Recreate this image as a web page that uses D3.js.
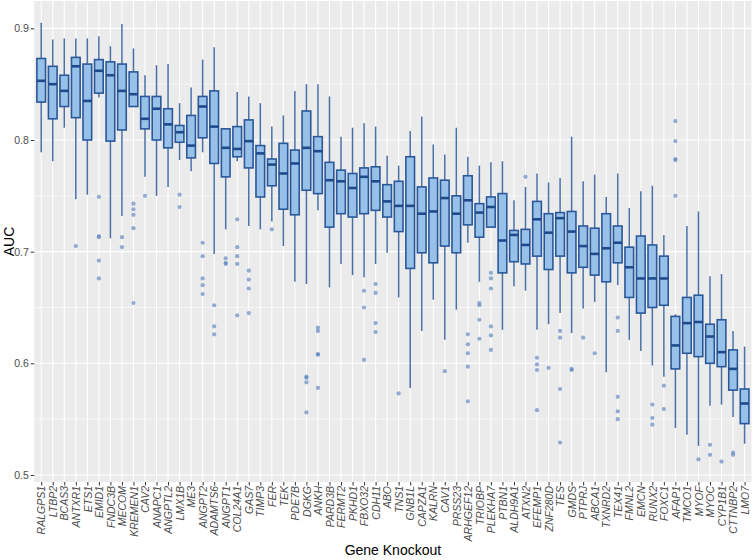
<!DOCTYPE html>
<html>
<head>
<meta charset="utf-8">
<script src="https://cdn.jsdelivr.net/npm/d3@7/dist/d3.min.js"></script>
<style>
  html, body { margin: 0; padding: 0; background: #ffffff; }
  svg { display: block; font-family: "Liberation Sans", Arial, Helvetica, sans-serif; }
</style>
</head>
<body>
<svg id="chart" width="756" height="560"></svg>
<script>
const genes = ["RALGPS1","LTBP2","BCAS3","ANTXR1","ETS1","EMID1","FNDC3B","MECOM","KREMEN1","CAV2",
  "ANAPC1","ANGPTL2","LMX1B","ME3","ANGPT2","ADAMTS6","ANGPT1","COL24A1","GAS7","TIMP3",
  "FER","TEK","PDE7B","DGKG","ANKH","PARD3B","FERMT2","PKHD1","FBXO32","CDH11",
  "ABO","TNS1","GNB1L","CAPZA1","KALRN","CAV1","PRSS23","ARHGEF12","TRIOBP","PLEKHA7",
  "PTBN1","ALDH9A1","ATXN2","EFEMP1","ZNF280D","TES","GMDS","PTPRJ","ABCA1","TXNRD2",
  "TEX41","FMNL2","EMCN","RUNX2","FOXC1","AFAP1","TMCO1","MYOF","MYOC","CYP1B1",
  "CTTNBP2","LMO7"];

const upperWhisker = [0.905,0.890,0.891,0.891,0.891,0.893,0.884,0.904,0.882,0.858,
  0.867,0.868,0.833,0.847,0.872,0.883,0.810,0.843,0.839,0.833,
  0.812,0.822,0.844,0.850,0.850,0.839,0.803,0.811,0.815,0.812,
  0.786,0.777,0.808,0.821,0.796,0.787,0.811,0.785,0.777,0.780,
  0.781,0.746,0.758,0.770,0.762,0.766,0.803,0.763,0.769,0.749,
  0.770,0.739,0.754,0.759,0.715,0.644,0.723,0.736,0.678,0.680,
  0.629,0.615];

const q3 = [0.873,0.866,0.858,0.874,0.868,0.872,0.870,0.868,0.861,0.839,
  0.839,0.828,0.813,0.822,0.839,0.844,0.810,0.812,0.818,0.795,
  0.783,0.797,0.791,0.826,0.803,0.780,0.773,0.770,0.775,0.776,
  0.760,0.763,0.785,0.758,0.766,0.764,0.750,0.768,0.743,0.749,
  0.752,0.719,0.720,0.745,0.734,0.735,0.736,0.723,0.721,0.734,
  0.723,0.704,0.714,0.706,0.696,0.642,0.659,0.661,0.635,0.639,
  0.612,0.577];

const medians = [0.853,0.850,0.844,0.866,0.835,0.862,0.858,0.844,0.841,0.819,
  0.828,0.814,0.807,0.795,0.830,0.812,0.793,0.792,0.799,0.788,
  0.778,0.770,0.779,0.793,0.790,0.764,0.763,0.757,0.767,0.763,
  0.745,0.741,0.741,0.734,0.736,0.748,0.734,0.746,0.735,0.740,
  0.710,0.715,0.706,0.729,0.717,0.730,0.718,0.705,0.698,0.703,
  0.708,0.686,0.676,0.676,0.676,0.616,0.636,0.637,0.624,0.610,
  0.595,0.564];

const q1 = [0.834,0.819,0.830,0.820,0.800,0.842,0.799,0.809,0.830,0.810,
  0.800,0.793,0.798,0.784,0.802,0.779,0.767,0.785,0.775,0.749,
  0.759,0.738,0.733,0.755,0.752,0.722,0.734,0.731,0.734,0.737,
  0.731,0.718,0.685,0.699,0.690,0.705,0.699,0.724,0.713,0.722,
  0.681,0.691,0.689,0.696,0.684,0.696,0.681,0.686,0.679,0.673,
  0.690,0.659,0.645,0.650,0.652,0.595,0.609,0.606,0.600,0.597,
  0.576,0.546];

const lowerWhisker = [0.789,0.781,0.811,0.747,0.751,0.838,0.712,0.732,0.830,0.767,
  0.750,0.758,0.782,0.772,0.789,0.698,0.720,0.781,0.723,0.720,
  0.727,0.705,0.673,0.671,0.737,0.668,0.689,0.679,0.677,0.689,
  0.699,0.659,0.578,0.629,0.657,0.621,0.648,0.708,0.673,0.722,
  0.630,0.669,0.665,0.630,0.635,0.645,0.627,0.649,0.655,0.592,
  0.670,0.621,0.611,0.598,0.588,0.542,0.536,0.526,0.562,0.563,
  0.552,0.528];

const outliers = [
  [], [], [], [0.705], [], [0.749,0.714,0.713,0.692,0.676], [], [0.713,0.704],
  [0.743,0.738,0.733,0.721,0.654], [0.750],
  [], [], [0.751,0.740], [], [0.708,0.696,0.676,0.670,0.662], [0.652,0.633,0.626],
  [0.694,0.690,0.689], [0.729,0.704,0.696,0.689,0.643], [0.683,0.675,0.667,0.645], [],
  [0.720], [], [], [0.588,0.587,0.583,0.556], [0.632,0.629,0.608,0.608,0.578], [], [], [],
  [0.665,0.650,0.603], [0.671,0.663,0.636,0.628],
  [], [0.573], [], [], [], [0.593], [], [0.626,0.617,0.609,0.597,0.566],
  [0.654,0.652,0.639,0.622], [0.681,0.676,0.667,0.633,0.625,0.612],
  [], [], [0.767], [0.605,0.599,0.594,0.558], [0.596], [0.629,0.623,0.577,0.529],
  [0.595,0.594], [0.623], [0.609], [],
  [0.641,0.629,0.570,0.557,0.550], [], [], [0.563,0.551,0.545], [0.580,0.559],
  [0.817,0.799,0.783,0.782,0.750], [], [0.514], [0.527,0.518], [0.512],
  [0.520,0.518], []
];

const yTicks = [0.5, 0.6, 0.7, 0.8, 0.9];
const yMinor = [0.55, 0.65, 0.75, 0.85];
const xTitle = "Gene Knockout";
const yTitle = "AUC";

const svg = d3.select("#chart");
const panel = { left: 34.3, right: 751.5, top: 1, bottom: 482 };

const x = d3.scalePoint().domain(genes).range([panel.left, panel.right]).padding(0.6);
const y = d3.scaleLinear().domain([0.4937, 0.9245]).range([panel.bottom, panel.top]);
const step = x.step();
const boxW = step * 0.75;

// panel background
svg.append("rect")
  .attr("x", panel.left).attr("y", panel.top)
  .attr("width", panel.right - panel.left).attr("height", panel.bottom - panel.top)
  .attr("fill", "#EBEBEB");

// minor grid
svg.append("g").selectAll("line").data(yMinor).join("line")
  .attr("x1", panel.left).attr("x2", panel.right)
  .attr("y1", d => y(d)).attr("y2", d => y(d))
  .attr("stroke", "#ffffff").attr("stroke-width", 0.55);

// major grid
svg.append("g").selectAll("line").data(yTicks).join("line")
  .attr("x1", panel.left).attr("x2", panel.right)
  .attr("y1", d => y(d)).attr("y2", d => y(d))
  .attr("stroke", "#ffffff").attr("stroke-width", 1.1);
svg.append("g").selectAll("line").data(genes).join("line")
  .attr("x1", d => x(d)).attr("x2", d => x(d))
  .attr("y1", panel.top).attr("y2", panel.bottom)
  .attr("stroke", "#ffffff").attr("stroke-width", 1.1);

const data = genes.map((g, i) => ({
  gene: g, lo: lowerWhisker[i], q1: q1[i], med: medians[i], q3: q3[i], hi: upperWhisker[i],
  out: outliers[i]
}));

const stroke = "#2A5899";
const boxes = svg.append("g");

// whiskers
boxes.selectAll("line.wu").data(data).join("line").attr("class", "wu")
  .attr("x1", d => x(d.gene)).attr("x2", d => x(d.gene))
  .attr("y1", d => y(d.hi)).attr("y2", d => y(d.q3))
  .attr("stroke", stroke).attr("stroke-width", 1.5).attr("stroke-opacity", 0.85);
boxes.selectAll("line.wl").data(data).join("line").attr("class", "wl")
  .attr("x1", d => x(d.gene)).attr("x2", d => x(d.gene))
  .attr("y1", d => y(d.q1)).attr("y2", d => y(d.lo))
  .attr("stroke", stroke).attr("stroke-width", 1.5).attr("stroke-opacity", 0.85);

// boxes
boxes.selectAll("rect.box").data(data).join("rect").attr("class", "box")
  .attr("x", d => x(d.gene) - boxW / 2).attr("width", boxW)
  .attr("y", d => y(d.q3)).attr("height", d => Math.max(0.5, y(d.q1) - y(d.q3)))
  .attr("fill", "#98C1EA").attr("stroke", stroke).attr("stroke-width", 1.6);

// medians
boxes.selectAll("line.med").data(data).join("line").attr("class", "med")
  .attr("x1", d => x(d.gene) - boxW / 2).attr("x2", d => x(d.gene) + boxW / 2)
  .attr("y1", d => y(d.med)).attr("y2", d => y(d.med))
  .attr("stroke", "#1E4A8C").attr("stroke-width", 2.6);

// outliers
const pts = data.flatMap(d => d.out.map(v => ({ gene: d.gene, v })));
boxes.selectAll("circle").data(pts).join("circle")
  .attr("cx", d => x(d.gene)).attr("cy", d => y(d.v)).attr("r", 2.1)
  .attr("fill", "#5A83BE").attr("fill-opacity", 0.65);

// y axis
const yAxis = svg.append("g").attr("transform", `translate(${panel.left},0)`)
  .call(d3.axisLeft(y).tickValues(yTicks).tickFormat(d3.format(".1f")).tickSize(3.5).tickPadding(2));
yAxis.select(".domain").remove();
yAxis.selectAll(".tick line").attr("stroke", "#333333").attr("stroke-width", 1);
yAxis.selectAll(".tick text").attr("fill", "#4D4D4D").style("font-size", "10.5px")
  .style("font-family", "'Liberation Sans', Arial, sans-serif");

// x axis
const xAxis = svg.append("g").attr("transform", `translate(0,${panel.bottom})`)
  .call(d3.axisBottom(x).tickSize(3.5).tickPadding(2));
xAxis.select(".domain").remove();
xAxis.selectAll(".tick line").attr("stroke", "#333333").attr("stroke-width", 1);
xAxis.selectAll(".tick text")
  .attr("fill", "#4D4D4D")
  .style("font-size", "10.5px").style("font-style", "italic")
  .style("font-family", "'Liberation Sans', Arial, sans-serif")
  .attr("text-anchor", "end")
  .attr("dy", "0.35em")
  .attr("transform", "translate(0,4) rotate(-90)")
  .attr("x", 0).attr("y", 0);

// titles
svg.append("text").attr("x", (panel.left + panel.right) / 2).attr("y", 555)
  .attr("text-anchor", "middle").attr("fill", "#000").style("font-size", "14px")
  .text(xTitle);
svg.append("text").attr("transform", `translate(14,${(panel.top + panel.bottom) / 2}) rotate(-90)`)
  .attr("text-anchor", "middle").attr("fill", "#000").style("font-size", "14px")
  .text(yTitle);
</script>
</body>
</html>
